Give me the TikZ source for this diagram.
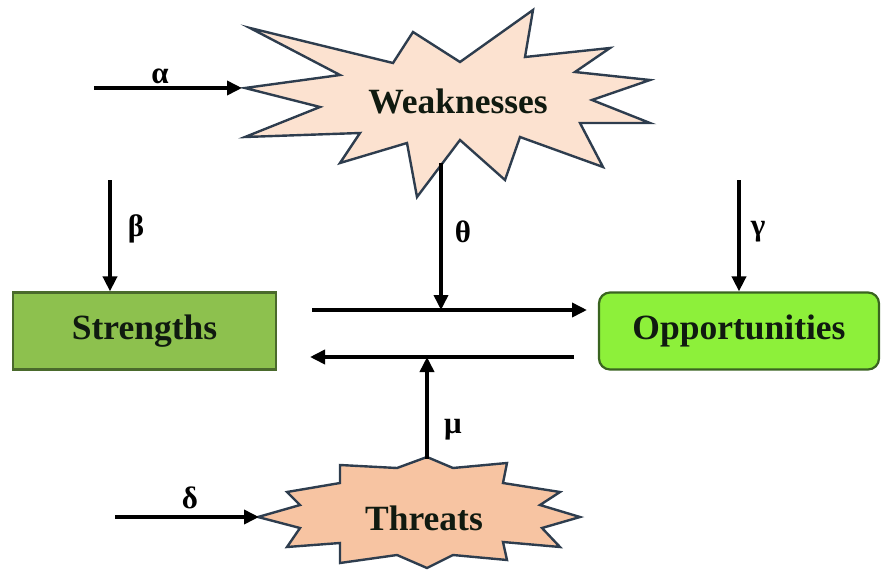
\documentclass[tikz,border=0pt]{standalone}
\usepackage{fontspec}
\setmainfont{Liberation Serif}
\usetikzlibrary{arrows.meta}
\definecolor{weakfill}{HTML}{FCE2D0}
\definecolor{threatfill}{HTML}{F7C4A2}
\definecolor{staredge}{HTML}{2E3D4E}
\definecolor{strfill}{HTML}{8DC14E}
\definecolor{stredge}{HTML}{4A6A2C}
\definecolor{oppfill}{HTML}{8DF03A}
\definecolor{oppedge}{HTML}{3A6420}
\definecolor{txt}{HTML}{101A10}
\tikzset{
  arr/.style={line width=3.6pt,-{Triangle[length=15pt,width=14pt]}},
  lbl/.style={font=\fontsize{31}{34}\selectfont\bfseries,inner sep=0pt},
  title/.style={font=\fontsize{35.5}{40}\selectfont\bfseries,inner sep=0pt,text=txt},
  star/.style={draw=staredge,line width=2.4pt,line join=miter},
  boxstyle/.style={line width=2.2pt,minimum height=77pt,text=txt,font=\fontsize{35.5}{40}\selectfont\bfseries}
}
\begin{document}
\begin{tikzpicture}[x=1pt,y=-1pt]
\useasboundingbox (0,0) rectangle (881,570);
% Weaknesses star
\draw[star,fill=weakfill] (250,28) -- (393,63) -- (413,32) -- (460,62) -- (533,10) -- (525,57)
  -- (610,48) -- (575,72) -- (650,80) -- (592,100) -- (650,123) -- (580,123) -- (603,167)
  -- (520,137) -- (505,180) -- (460,140) -- (417,197) -- (407,143) -- (340,163) -- (360,133)
  -- (245,137) -- (320,107) -- (245,88) -- (340,75) -- cycle;
% Threats star
\draw[star,fill=threatfill] (427,457) -- (453,468) -- (507,463) -- (503,483) -- (560,492)
  -- (540,505) -- (580,517) -- (542,528) -- (560,547) -- (503,542) -- (507,560) -- (453,555)
  -- (427,568) -- (397,555) -- (340,563) -- (340,543) -- (287,547) -- (300,528) -- (258,517)
  -- (300,505) -- (287,492) -- (340,483) -- (340,465) -- (397,468) -- cycle;
\node[title] (weak) at (458,101) {Weaknesses};
\node[title] (thr) at (424,518) {Threats};
% boxes
\node[boxstyle,draw=stredge,fill=strfill,minimum width=263pt] (str) at (144.5,331) {Strengths};
\node[boxstyle,draw=oppedge,fill=oppfill,minimum width=280pt,rounded corners=11pt] (opp) at (739,331) {Opportunities};
% coordinates
\coordinate (wL) at (242,88);
\coordinate (a0) at (94,88);
\coordinate (b0) at (110,180);
\coordinate (wB) at (441,163);
\coordinate (g0) at (739,180);
\coordinate (h1s) at (312,310);
\coordinate (h1e) at (587,310);
\coordinate (h2s) at (574,357);
\coordinate (h2e) at (310,357);
\coordinate (tT) at (427,459);
\coordinate (d0) at (115,517);
\coordinate (tL) at (259,517);
% arrows
\draw[arr] (a0) -- (wL);
\draw[arr] (b0) -- (b0 |- str.north);
\draw[arr] (wB) -- (wB |- h1s);
\draw[arr] (g0) -- (g0 |- opp.north);
\draw[arr] (h1s) -- (h1e);
\draw[arr] (h2s) -- (h2e);
\draw[arr] (tT) -- (tT |- h2s);
\draw[arr] (d0) -- (tL);
% labels
\node[lbl] (la) at (160,76) {α};
\node[lbl] (lb) at (136,229) {β};
\node[lbl] (lt) at (463,232) {θ};
\node[lbl] (lg) at (758,232) {γ};
\node[lbl] (lm) at (453,430) {μ};
\node[lbl] (ld) at (190,498) {δ};
\end{tikzpicture}
\end{document}
